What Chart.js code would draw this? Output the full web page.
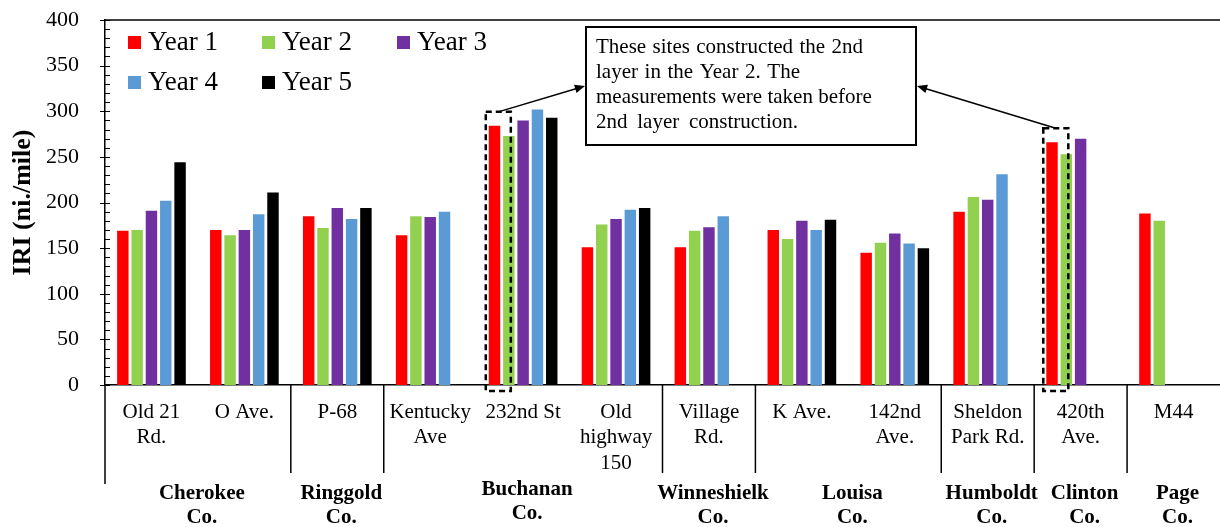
<!DOCTYPE html>
<html>
<head>
<meta charset="utf-8">
<script src="https://cdn.jsdelivr.net/npm/chart.js@4.4.1/dist/chart.umd.min.js"></script>
<style>
  html, body { margin: 0; padding: 0; background: #fff; }
  #wrap { width: 1220px; height: 527px; }
</style>
</head>
<body>
<div id="wrap"><canvas id="iriChart" width="1220" height="527"></canvas></div>
<script>
// 구간(도로) 이름
const sites = [
    ['Old 21', 'Rd.'], 'O Ave.', 'P-68', ['Kentucky', 'Ave'], '232nd St',
    ['Old', 'highway', '150'], ['Village', 'Rd.'], 'K Ave.', ['142nd', 'Ave.'],
    ['Sheldon', 'Park Rd.'], ['420th', 'Ave.'], 'M44'
];

// 연도별 IRI 값 (ni./mile)
const year1 = [169, 170, 185, 164, 284, 151, 151, 170, 145, 190, 266, 188];
const year2 = [170, 164, 172, 185, 273, 176, 169, 160, 156, 206, 253, 180];
const year3 = [191, 170, 194, 184, 290, 182, 173, 180, 166, 203, 270, null];
const year4 = [202, 187, 182, 190, 302, 192, 185, 170, 155, 231, null, null];
const year5 = [244, 211, 194, null, 293, 194, null, 181, 150, null, null, null];

// 카운티 그룹 (첫 구간, 마지막 구간)
const counties = [
    { name: ['Cherokee', 'Co.'], from: 0, to: 1 },
    { name: ['Ringgold', 'Co.'], from: 2, to: 2 },
    { name: ['Buchanan', 'Co.'], from: 3, to: 5 },
    { name: ['Winneshielk', 'Co.'], from: 6, to: 6 },
    { name: ['Louisa', 'Co.'], from: 7, to: 8 },
    { name: ['Humboldt', 'Co.'], from: 9, to: 9 },
    { name: ['Clinton', 'Co.'], from: 10, to: 10 },
    { name: ['Page', 'Co.'], from: 11, to: 11 }
];

// 2층 시공 구간 (점선 박스)
const markedSites = [4, 10];
const noteLines = [
    'These sites constructed the 2nd',
    'layer in the Year 2. The',
    'measurements were taken before',
    '2nd layer construction.'
];

const SERIF = "'Liberation Serif', 'Times New Roman', serif";

// 범례, 눈금, 카운티 라벨, 주석을 그리는 플러그인
const extrasPlugin = {
    id: 'extras',
    afterDraw(chart) {
        const ctx = chart.ctx;
        const area = chart.chartArea;
        const x = chart.scales.x;
        const y = chart.scales.y;

        ctx.save();
        ctx.strokeStyle = '#000';
        ctx.fillStyle = '#000';

        // 위쪽 테두리
        ctx.lineWidth = 1.5;
        ctx.beginPath();
        ctx.moveTo(area.left, area.top);
        ctx.lineTo(area.right, area.top);
        ctx.stroke();

        // y축 안쪽 눈금
        ctx.lineWidth = 1;
        for (let v = 0; v <= 400; v += 10) {
            const py = Math.round(y.getPixelForValue(v)) + 0.5;
            ctx.beginPath();
            ctx.moveTo(v % 50 === 0 ? area.left - 5 : area.left, py);
            ctx.lineTo(area.left + 5, py);
            ctx.stroke();
        }

        // 카운티 구분선
        ctx.lineWidth = 1.5;
        ctx.beginPath();
        ctx.moveTo(area.left, area.bottom);
        ctx.lineTo(area.left, 484);
        ctx.stroke();
        counties.forEach((c, i) => {
            if (i === counties.length - 1) return;
            const px = (x.getPixelForValue(c.to) + x.getPixelForValue(c.to + 1)) / 2;
            ctx.beginPath();
            ctx.moveTo(px, area.bottom);
            ctx.lineTo(px, 473);
            ctx.stroke();
        });

        // 카운티 이름
        ctx.font = 'bold 21px ' + SERIF;
        ctx.textAlign = 'center';
        ctx.textBaseline = 'alphabetic';
        counties.forEach(c => {
            const cx = (x.getPixelForValue(c.from) + x.getPixelForValue(c.to)) / 2 + 4;
            const base = c.name[0] === 'Buchanan' ? 495 : 499;
            ctx.fillText(c.name[0], cx, base);
            ctx.fillText(c.name[1], cx, base + 24);
        });

        // 주석 박스
        const box = { left: 586, top: 27, right: 916, bottom: 145 };
        ctx.lineWidth = 2;
        ctx.strokeRect(box.left, box.top, box.right - box.left, box.bottom - box.top);
        ctx.font = '21px ' + SERIF;
        ctx.textAlign = 'left';
        const targets = [267, 204, 274, 202];
        noteLines.forEach((line, i) => {
            const words = line.split(' ');
            const plain = ctx.measureText(line).width;
            const extra = Math.max(0, (targets[i] - plain) / (words.length - 1));
            let px = 596;
            words.forEach(w => {
                ctx.fillText(w, px, 53 + i * 25);
                px += ctx.measureText(w + ' ').width + extra;
            });
        });

        // 점선 박스와 화살표
        const m0 = chart.getDatasetMeta(0);
        const m1 = chart.getDatasetMeta(1);
        markedSites.forEach(idx => {
            const red = m0.data[idx];
            const green = m1.data[idx];
            const left = red.x - red.width / 2 - 3;
            const right = green.x + 2;
            const top = red.y - 14;
            const bottom = area.bottom + 6;
            ctx.setLineDash([6, 4]);
            ctx.lineWidth = 2.5;
            ctx.strokeRect(left, top, right - left, bottom - top);
            ctx.setLineDash([]);

            const sx = (left + right) / 2;
            const sy = top;
            const ex = sx < box.left ? box.left - 1 : box.right + 1;
            const ey = 86;
            drawArrow(ctx, sx, sy, ex, ey);
        });

        // 범례
        const legendPos = [[128, 36], [262, 36], [397, 36], [128, 76], [262, 76]];
        ctx.font = '27px ' + SERIF;
        chart.data.datasets.forEach((ds, i) => {
            const [lx, ly] = legendPos[i];
            ctx.fillStyle = ds.backgroundColor;
            ctx.fillRect(lx, ly, 13, 13);
            ctx.fillStyle = '#000';
            ctx.fillText(ds.label, lx + 20, ly + 14);
        });

        ctx.restore();
    }
};

function drawArrow(ctx, sx, sy, ex, ey) {
    const ang = Math.atan2(ey - sy, ex - sx);
    const len = 11;
    ctx.lineWidth = 1.5;
    ctx.beginPath();
    ctx.moveTo(sx, sy);
    ctx.lineTo(ex - Math.cos(ang) * 6, ey - Math.sin(ang) * 6);
    ctx.stroke();
    ctx.beginPath();
    ctx.moveTo(ex, ey);
    ctx.lineTo(ex - len * Math.cos(ang - 0.4), ey - len * Math.sin(ang - 0.4));
    ctx.lineTo(ex - len * Math.cos(ang + 0.4), ey - len * Math.sin(ang + 0.4));
    ctx.closePath();
    ctx.fill();
}

const ctx = document.getElementById('iriChart').getContext('2d');
new Chart(ctx, {
    type: 'bar',
    data: {
        labels: sites,
        datasets: [
            { label: 'Year 1', data: year1, backgroundColor: '#FF0000' },
            { label: 'Year 2', data: year2, backgroundColor: '#92D050' },
            { label: 'Year 3', data: year3, backgroundColor: '#7030A0' },
            { label: 'Year 4', data: year4, backgroundColor: '#5B9BD5' },
            { label: 'Year 5', data: year5, backgroundColor: '#000000' }
        ]
    },
    options: {
        responsive: false,
        animation: false,
        layout: { padding: { top: 20, left: 8, right: 0, bottom: 0 } },
        datasets: { bar: { categoryPercentage: 0.77, barPercentage: 0.8 } },
        plugins: {
            legend: { display: false },
            tooltip: { enabled: false }
        },
        scales: {
            x: {
                grid: { display: false },
                border: { color: '#000', width: 1.5 },
                ticks: {
                    color: '#000',
                    autoSkip: false,
                    maxRotation: 0,
                    padding: 7,
                    font: { family: SERIF, size: 21, lineHeight: 1.2 }
                },
                afterFit: s => { s.height = 142; }
            },
            y: {
                min: 0,
                max: 400,
                grid: { display: false },
                border: { color: '#000', width: 1.5 },
                ticks: {
                    stepSize: 10,
                    autoSkip: false,
                    color: '#000',
                    padding: 18,
                    font: { family: SERIF, size: 22 },
                    callback: v => (v % 50 === 0 ? v : '')
                },
                title: {
                    display: true,
                    text: 'IRI (ni./mile)',
                    color: '#000',
                    padding: 0,
                    font: { family: SERIF, size: 26, weight: 'bold' }
                },
                afterFit: s => {
                    s.width = 97;
                    s.paddingTop = 0;
                    s.paddingBottom = 0;
                }
            }
        }
    },
    plugins: [extrasPlugin]
});
</script>
</body>
</html>
